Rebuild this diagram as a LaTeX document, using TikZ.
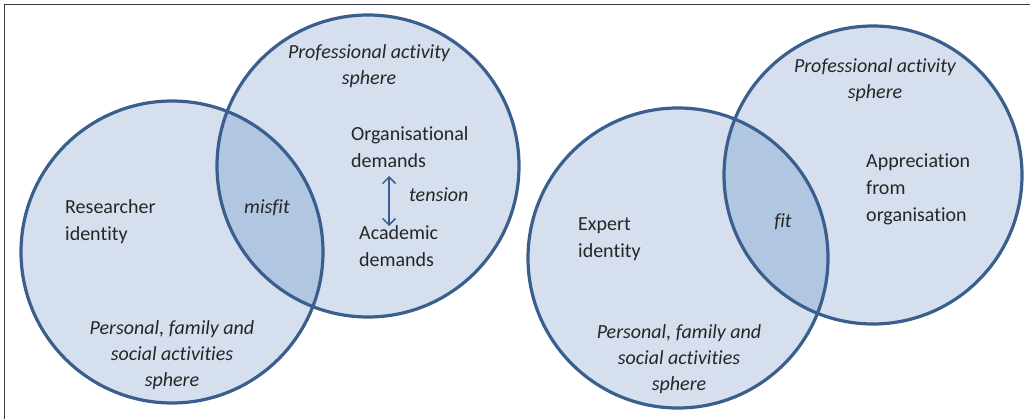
\documentclass[tikz,border=0pt]{standalone}
\usepackage{fontspec}
\setmainfont{Carlito}[Ligatures=NoCommon]
\usepackage{tikz}
\usetikzlibrary{arrows.meta}
\definecolor{ringblue}{HTML}{3A5F8E}
\definecolor{spherefill}{HTML}{D5DFEE}
\definecolor{overlapfill}{HTML}{B1C6E1}
\definecolor{inkgrey}{HTML}{262626}

\begin{document}
\begin{tikzpicture}[x=1pt, y=-1pt,
                    sphere/.style={circle, minimum size=#1, inner sep=0pt},
                    ring/.style={draw=ringblue, line width=3.2pt},
                    label/.style={font=\fontsize{20}{27}\selectfont, text=inkgrey, inner sep=0pt},
                    slant/.style={label, font=\fontsize{20}{26}\itshape\selectfont, align=center}]
  \useasboundingbox (0,0) rectangle (1030,419);
  \draw[inkgrey!90, line width=1.5pt] (1030,4.5) -- (4.5,4.5) -- (4.5,419);

  % left diagram: misfit
  \node[sphere=302pt, fill=spherefill] (pers1) at (172,252) {};
  \node[sphere=302pt, fill=spherefill] (prof1) at (368,166) {};
  \begin{scope}
    \clip (172,252) circle (151);
    \fill[overlapfill] (368,166) circle (151);
  \end{scope}
  \node[sphere=302pt, ring] at (pers1) {};
  \node[sphere=302pt, ring] at (prof1) {};

  \node[slant] (proftext1) at (369,66) {Professional activity\\sphere};
  \node[label, align=left, anchor=west] (org) at (351,147) {Organisational\\demands};
  \node[label, align=left, anchor=west] (acad) at (359,246) {Academic\\demands};
  \node[slant, anchor=west] (tension) at (409,195) {tension};
  \coordinate (tup) at (389,176);
  \coordinate (tdown) at (389,226);
  \draw[ringblue, line width=1.5pt, {Straight Barb[length=6.5pt,width=13pt]}-{Straight Barb[length=6.5pt,width=13pt]}] (tup) -- (tdown);
  \node[label, align=left, anchor=west] (res) at (65,222) {Researcher\\identity};
  \node[slant] (misfit) at (267,208) {misfit};
  \node[slant] (perstext1) at (172,355) {Personal, family and\\social activities\\sphere};

  % right diagram: fit
  \node[sphere=300pt, fill=spherefill] (pers2) at (678,258) {};
  \node[sphere=298pt, fill=spherefill] (prof2) at (873,175) {};
  \begin{scope}
    \clip (678,258) circle (150);
    \fill[overlapfill] (873,175) circle (149);
  \end{scope}
  \node[sphere=300pt, ring] at (pers2) {};
  \node[sphere=298pt, ring] at (prof2) {};

  \node[slant] (proftext2) at (875,80) {Professional activity\\sphere};
  \node[label, align=left, anchor=west] (appr) at (866,189) {Appreciation\\from\\organisation};
  \node[label, align=left, anchor=west] (expert) at (578,239) {Expert\\identity};
  \node[slant] (fit) at (783,222) {fit};
  \node[slant] (perstext2) at (679,359) {Personal, family and\\social activities\\sphere};
\end{tikzpicture}
\end{document}
